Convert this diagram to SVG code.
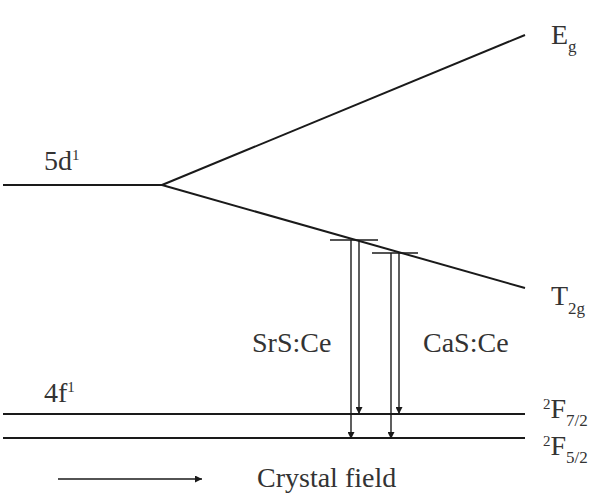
<svg xmlns="http://www.w3.org/2000/svg" width="590" height="495" viewBox="0 0 590 495">
<defs>
<style>
.ln{stroke:#1a1a1a;stroke-width:2;fill:none}
.ar{stroke:#1a1a1a;stroke-width:1.4;fill:none}
.t{font-family:"Liberation Serif","Times New Roman",serif;font-size:28px;fill:#333}
.sub{font-size:17px}
.sup{font-size:15px}
</style>
<marker id="ah" viewBox="0 0 10 10" refX="10" refY="5" markerWidth="7" markerHeight="7" orient="auto" markerUnits="userSpaceOnUse">
<path d="M0,0 L10,5 L0,10 z" fill="#1a1a1a"/>
</marker>
</defs>
<rect width="590" height="495" fill="#fff"/>
<g id="level-5d">
<line class="ln" x1="3" y1="185" x2="162" y2="185"/>
<text class="t" x="44" y="170">5d<tspan class="sup" dy="-10">1</tspan></text>
</g>
<g id="level-Eg">
<line class="ln" x1="162" y1="185" x2="525" y2="35"/>
<text class="t" x="551" y="44">E<tspan class="sub" dy="8">g</tspan></text>
</g>
<g id="level-T2g">
<line class="ln" x1="162" y1="185" x2="525" y2="288"/>
<text class="t" x="551" y="305">T<tspan class="sub" dy="9">2g</tspan></text>
</g>
<g id="level-4f">
<line class="ln" x1="3" y1="414" x2="525" y2="414"/>
<text class="t" x="44" y="402">4f<tspan class="sup" dy="-10">1</tspan></text>
</g>
<g id="level-F72">
<text class="t" x="543" y="418"><tspan class="sup" dy="-9">2</tspan><tspan dy="9">F</tspan><tspan class="sub" dy="8">7/2</tspan></text>
</g>
<g id="level-F52">
<line class="ln" x1="3" y1="438" x2="525" y2="438"/>
<text class="t" x="543" y="455"><tspan class="sup" dy="-9">2</tspan><tspan dy="9">F</tspan><tspan class="sub" dy="8">5/2</tspan></text>
</g>
<g id="SrS-Ce">
<line class="ar" x1="330" y1="240" x2="378" y2="240"/>
<text class="t" x="252" y="352">SrS:Ce</text>
</g>
<g id="CaS-Ce">
<line class="ar" x1="372" y1="253" x2="418" y2="253"/>
<text class="t" x="423" y="352">CaS:Ce</text>
</g>
<g id="connectors">
<line class="ar" x1="351" y1="240" x2="351" y2="439" marker-end="url(#ah)"/>
<line class="ar" x1="359" y1="240" x2="359" y2="414" marker-end="url(#ah)"/>
<line class="ar" x1="391" y1="253" x2="391" y2="439" marker-end="url(#ah)"/>
<line class="ar" x1="399" y1="253" x2="399" y2="414" marker-end="url(#ah)"/>
<line class="ar" x1="58" y1="479" x2="202" y2="479" marker-end="url(#ah)"/>
</g>
<g id="legend">
<text class="t" x="257" y="487">Crystal field</text>
</g>
</svg>
